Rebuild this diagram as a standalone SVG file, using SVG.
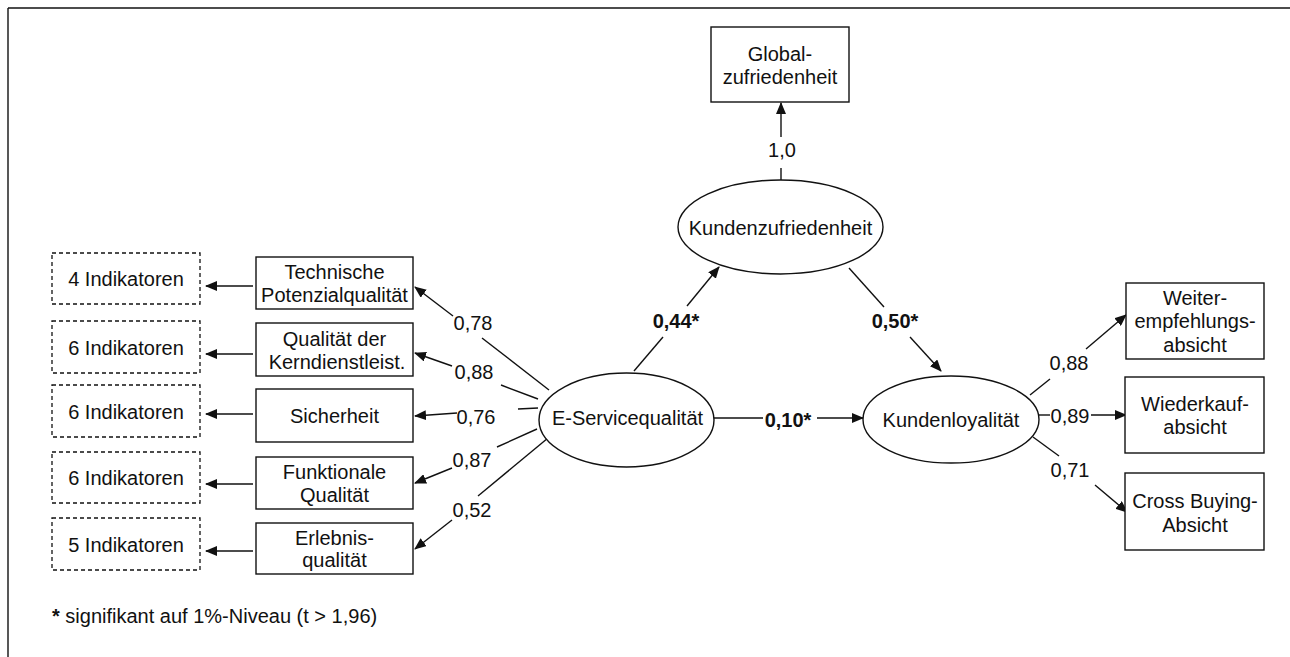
<svg xmlns="http://www.w3.org/2000/svg" width="1290" height="657" viewBox="0 0 1290 657">
<style>
text{font-family:"Liberation Sans",Arial,sans-serif;font-size:20px;fill:#111;text-anchor:middle}
.b{font-weight:bold}
.box{fill:#fff;stroke:#111;stroke-width:1.4}
.dash{fill:#fff;stroke:#111;stroke-width:1.3;stroke-dasharray:4 3}
.ell{fill:#fff;stroke:#111;stroke-width:1.4}
.ln{stroke:#111;stroke-width:1.4;fill:none}
.ar{stroke:#111;stroke-width:1.4;fill:none;marker-end:url(#ah)}
</style>
<defs>
<marker id="ah" markerUnits="userSpaceOnUse" markerWidth="12" markerHeight="10" refX="11" refY="5" orient="auto">
<path d="M0,0 L12,5 L0,10 Z" fill="#111"/>
</marker>
</defs>
<rect width="1290" height="657" fill="#fff"/>
<g id="frame">
<line x1="8" y1="8" x2="1290" y2="8" class="ln" stroke-width="1.6"/>
<line x1="8" y1="8" x2="8" y2="657" class="ln" stroke-width="1.6"/>
</g>
<g id="connectors">
<!-- dashed indicators arrows -->
<line x1="253" y1="286" x2="206" y2="286" class="ar"/>
<line x1="253" y1="354" x2="206" y2="354" class="ar"/>
<line x1="253" y1="414" x2="206" y2="414" class="ar"/>
<line x1="253" y1="484" x2="206" y2="484" class="ar"/>
<line x1="253" y1="551" x2="206" y2="551" class="ar"/>
<!-- E-Service to dimensions -->
<line x1="549" y1="390" x2="482" y2="338" class="ln"/>
<line x1="453" y1="316" x2="415" y2="287" class="ar"/>
<line x1="538" y1="399" x2="501" y2="385" class="ln"/>
<line x1="452" y1="366" x2="415" y2="353" class="ar"/>
<line x1="538" y1="408" x2="518" y2="409" class="ln"/>
<line x1="457" y1="413" x2="415" y2="416" class="ar"/>
<line x1="537" y1="429" x2="497" y2="447" class="ln"/>
<line x1="452" y1="468" x2="415" y2="483" class="ar"/>
<line x1="548" y1="438" x2="478" y2="496" class="ln"/>
<line x1="452" y1="520" x2="415" y2="549" class="ar"/>
<!-- structural -->
<line x1="634" y1="371" x2="663" y2="337" class="ln"/>
<line x1="687" y1="306" x2="719" y2="267" class="ar"/>
<line x1="849" y1="268" x2="884" y2="307" class="ln"/>
<line x1="910" y1="337" x2="941" y2="371" class="ar"/>
<line x1="714" y1="418" x2="763" y2="418" class="ln"/>
<line x1="817" y1="418" x2="863" y2="418" class="ar"/>
<line x1="781" y1="180" x2="781" y2="168" class="ln"/>
<line x1="781" y1="137" x2="781" y2="103" class="ar"/>
<!-- Kundenloyalitaet to indicators -->
<line x1="1030" y1="395" x2="1050" y2="379" class="ln"/>
<line x1="1086" y1="349" x2="1126" y2="315" class="ar"/>
<line x1="1039" y1="415" x2="1050" y2="415" class="ln"/>
<line x1="1091" y1="415" x2="1126" y2="415" class="ar"/>
<line x1="1033" y1="437" x2="1059" y2="456" class="ln"/>
<line x1="1095" y1="485" x2="1127" y2="512" class="ar"/>
<!-- labels -->
<text x="473" y="330">0,78</text>
<text x="474" y="379">0,88</text>
<text x="476" y="424">0,76</text>
<text x="472" y="467">0,87</text>
<text x="472" y="517">0,52</text>
<text x="782" y="157">1,0</text>
<text x="676" y="328" class="b">0,44*</text>
<text x="895" y="328" class="b">0,50*</text>
<text x="788" y="427" class="b">0,10*</text>
<text x="1069" y="370">0,88</text>
<text x="1070" y="423">0,89</text>
<text x="1070" y="477">0,71</text>
</g>
<g id="ind1"><rect x="52" y="253" width="148" height="51" class="dash"/><text x="126" y="286">4 Indikatoren</text></g>
<g id="ind2"><rect x="52" y="321" width="148" height="52" class="dash"/><text x="126" y="355">6 Indikatoren</text></g>
<g id="ind3"><rect x="52" y="385" width="148" height="52" class="dash"/><text x="126" y="419">6 Indikatoren</text></g>
<g id="ind4"><rect x="52" y="452" width="148" height="51" class="dash"/><text x="126" y="485">6 Indikatoren</text></g>
<g id="ind5"><rect x="52" y="518" width="148" height="52" class="dash"/><text x="126" y="552">5 Indikatoren</text></g>
<g id="techn"><rect x="256" y="257" width="157" height="52" class="box"/><text x="334.5" y="279">Technische</text><text x="334.5" y="302">Potenzialqualität</text></g>
<g id="kern"><rect x="256" y="323" width="157" height="53" class="box"/><text x="334.5" y="346">Qualität der</text><text x="337" y="369">Kerndienstleist.</text></g>
<g id="sich"><rect x="256" y="389" width="157" height="53" class="box"/><text x="334.5" y="423">Sicherheit</text></g>
<g id="funk"><rect x="256" y="457" width="157" height="52" class="box"/><text x="334.5" y="479">Funktionale</text><text x="334.5" y="502">Qualität</text></g>
<g id="erl"><rect x="256" y="523" width="157" height="51" class="box"/><text x="334.5" y="545">Erlebnis-</text><text x="334.5" y="567">qualität</text></g>
<g id="global"><rect x="711" y="27" width="138" height="75" class="box"/><text x="780" y="61">Global-</text><text x="780" y="84">zufriedenheit</text></g>
<g id="kzuf"><ellipse cx="780.5" cy="227" rx="102.5" ry="47" class="ell"/><text x="780.5" y="235">Kundenzufriedenheit</text></g>
<g id="eserv"><ellipse cx="626.5" cy="420" rx="87.5" ry="47" class="ell"/><text x="627.5" y="425">E-Servicequalität</text></g>
<g id="kloy"><ellipse cx="951" cy="419.5" rx="88" ry="43.5" class="ell"/><text x="951" y="427">Kundenloyalität</text></g>
<g id="weiter"><rect x="1126" y="283" width="138" height="76" class="box"/><text x="1195" y="305">Weiter-</text><text x="1195" y="328">empfehlungs-</text><text x="1195" y="352">absicht</text></g>
<g id="wieder"><rect x="1125" y="377" width="139" height="76" class="box"/><text x="1195" y="411">Wiederkauf-</text><text x="1195" y="434">absicht</text></g>
<g id="cross"><rect x="1125" y="473" width="139" height="77" class="box"/><text x="1195" y="508">Cross Buying-</text><text x="1195" y="532">Absicht</text></g>
<g id="footnote"><text x="52" y="623" style="text-anchor:start"><tspan class="b">*</tspan> signifikant auf 1%-Niveau (t &gt; 1,96)</text></g>
</svg>
